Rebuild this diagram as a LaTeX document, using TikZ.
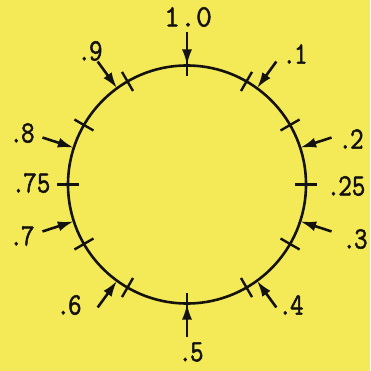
\documentclass[tikz,border=0pt]{standalone}
\usepackage{fontspec}
\newfontfamily\twfont{Latin Modern Mono}[FakeBold=1.6]
\newfontfamily\hwfont{Latin Modern Mono}[FakeBold=1.6,FakeStretch=0.85]
\usetikzlibrary{arrows.meta}
\definecolor{bg}{RGB}{244,234,88}
\definecolor{ink}{RGB}{20,18,15}
\newcommand{\dotlab}[1]{.\kern-2pt#1}
\begin{document}
\begin{tikzpicture}[x=1pt,y=1pt,
  dial/.style={circle,draw=ink,line width=2.6pt,minimum size=238pt,inner sep=0pt,outer sep=0pt},
  tickmark/.style={draw=ink,line width=2.4pt},
  pointer/.style={draw=ink,line width=2.6pt,-{Latex[length=16pt,width=10pt]}},
  lab/.style={text=ink,font=\hwfont\fontsize{31}{32}\selectfont,inner sep=0pt},
  toplab/.style={text=ink,font=\twfont\fontsize{31}{32}\selectfont,inner sep=0pt}]
\fill[bg] (0,0) rectangle (370,-371);
\useasboundingbox (0,0) rectangle (370,-371);
\node[dial] (c) at (187,-184.5) {};
% tick marks every 30 degrees
\begin{scope}[shift={(c.center)}]
\foreach \a in {0,30,...,330}{
  \draw[tickmark] (\a:108) -- (\a:130);
}
% arrow tails
\foreach \v/\a in {10/90,1/54,2/18,3/-18,4/-54,5/-90,6/-126,7/-162,8/162,9/126}{
  \coordinate (t\v) at (\a:152);
}
\end{scope}
% arrows
\foreach \v/\a in {10/90,1/54,2/18,3/-18,4/-54,5/-90,6/-126,7/-162,8/162,9/126}{
  \draw[pointer] (t\v) -- (c.\a);
}
% labels
\node[toplab] (l10) at (188,-17) {1.0};
\node[lab] (l1) at (295,-54) {\dotlab{1}};
\node[lab] (l2) at (351,-139) {\dotlab{2}};
\node[lab] (l25) at (346,-186) {\dotlab{25}};
\node[lab] (l3) at (355,-239) {\dotlab{3}};
\node[lab] (l4) at (291,-305) {\dotlab{4}};
\node[lab] (l5) at (191,-352) {\dotlab{5}};
\node[lab] (l6) at (69,-305) {\dotlab{6}};
\node[lab] (l7) at (22,-236) {\dotlab{7}};
\node[lab] (l75) at (31,-183) {\dotlab{75}};
\node[lab] (l8) at (22,-133) {\dotlab{8}};
\node[lab] (l9) at (90,-51) {\dotlab{9}};
\end{tikzpicture}
\end{document}
